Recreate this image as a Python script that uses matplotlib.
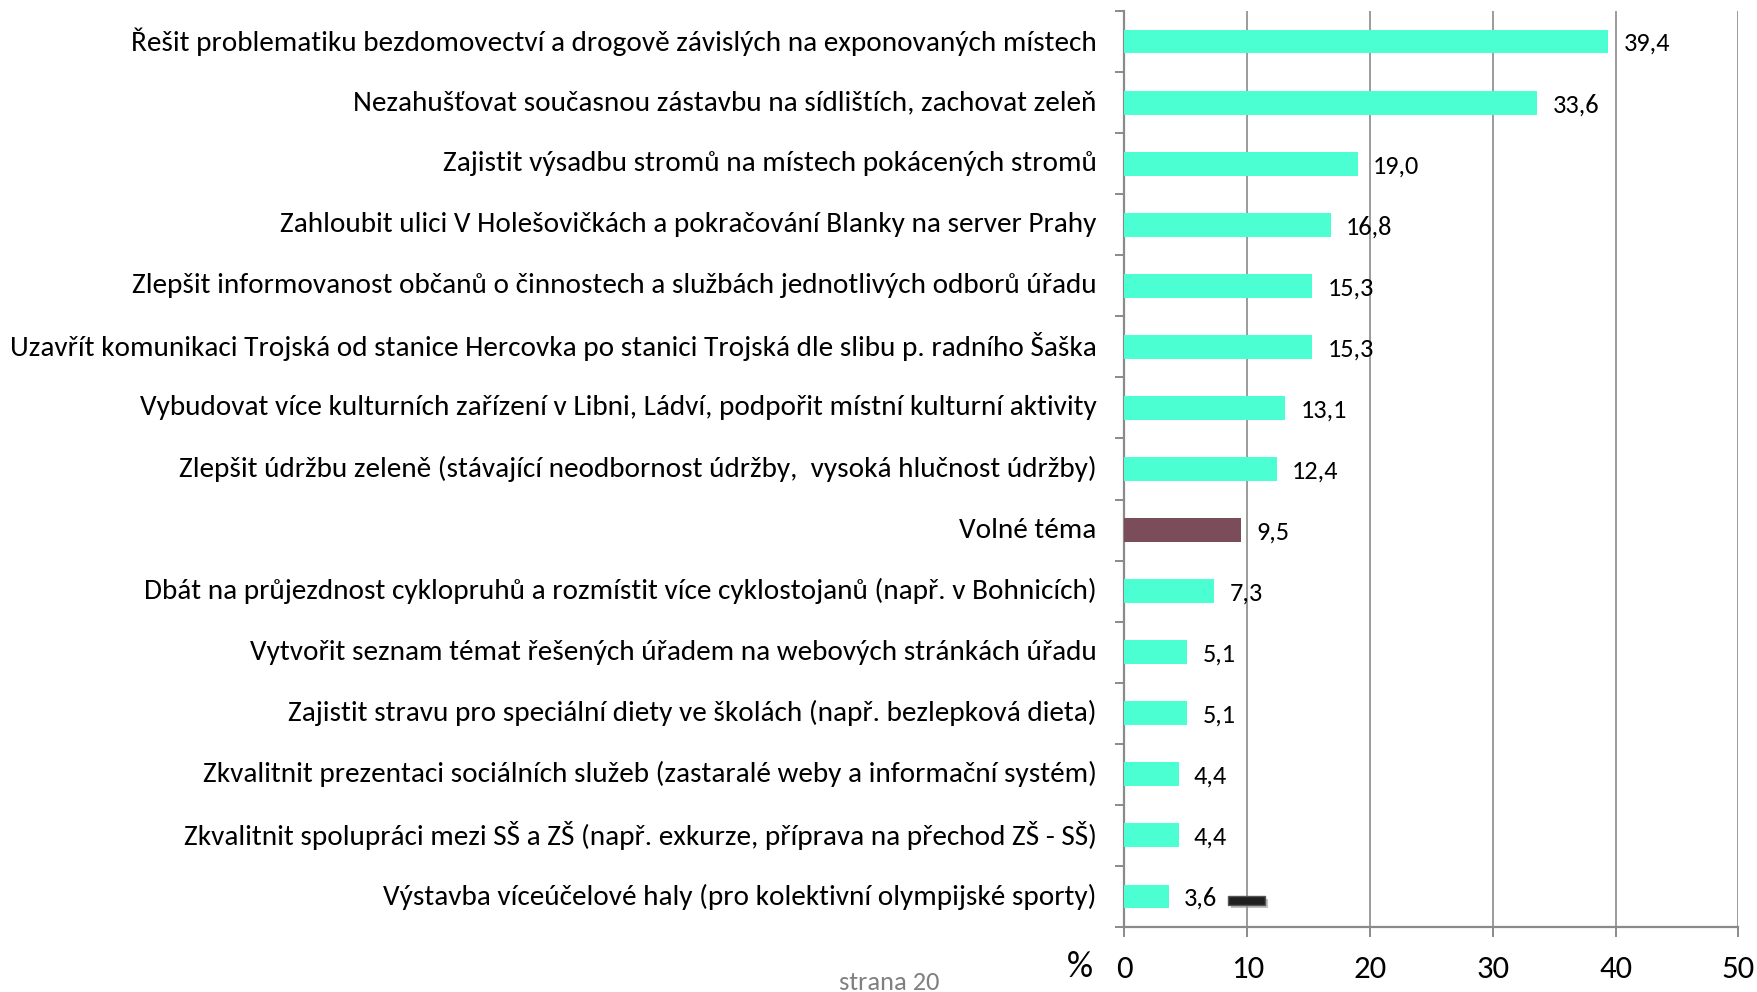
import matplotlib
matplotlib.use("Agg")
import matplotlib.pyplot as plt
from matplotlib import font_manager
import matplotlib.patheffects as pe
import matplotlib.transforms as mtransforms
from matplotlib.patches import Rectangle

categories = [
    "Řešit problematiku bezdomovectví a drogově závislých na exponovaných místech",
    "Nezahušťovat současnou zástavbu na sídlištích, zachovat zeleň",
    "Zajistit výsadbu stromů na místech pokácených stromů",
    "Zahloubit ulici V Holešovičkách a pokračování Blanky na server Prahy",
    "Zlepšit informovanost občanů o činnostech a službách jednotlivých odborů úřadu",
    "Uzavřít komunikaci Trojská od stanice Hercovka po stanici Trojská dle slibu p. radního Šaška",
    "Vybudovat více kulturních zařízení v Libni, Ládví, podpořit místní kulturní aktivity",
    "Zlepšit údržbu zeleně (stávající neodbornost údržby,  vysoká hlučnost údržby)",
    "Volné téma",
    "Dbát na průjezdnost cyklopruhů a rozmístit více cyklostojanů (např. v Bohnicích)",
    "Vytvořit seznam témat řešených úřadem na webových stránkách úřadu",
    "Zajistit stravu pro speciální diety ve školách (např. bezlepková dieta)",
    "Zkvalitnit prezentaci sociálních služeb (zastaralé weby a informační systém)",
    "Zkvalitnit spolupráci mezi SŠ a ZŠ (např. exkurze, příprava na přechod ZŠ - SŠ)",
    "Výstavba víceúčelové haly (pro kolektivní olympijské sporty)",
]
values = [39.4, 33.6, 19.0, 16.8, 15.3, 15.3, 13.1, 12.4, 9.5, 7.3, 5.1, 5.1, 4.4, 4.4, 3.6]
highlight = "Volné téma"
x_ticks = [0, 10, 20, 30, 40, 50]
x_label = "%"
footer = "strana 20"

# font selection
available = {f.name for f in font_manager.fontManager.ttflist}
family = "DejaVu Sans"
for cand in ["Carlito", "Calibri", "Liberation Sans Narrow", "Roboto Condensed", "Open Sans Condensed", "Lato", "Open Sans"]:
    if cand in available:
        family = cand
        break
plt.rcParams["font.family"] = [family, "DejaVu Sans"]

W, H = 1758, 992
fig = plt.figure(figsize=(W / 100, H / 100), dpi=100)
ax = fig.add_axes([1124.5 / W, 1 - 927 / H, (1738.5 - 1124.5) / W, (927 - 11) / H])

aqua = "#4cffd2"
maroon = "#7b4d5b"
grey = "#8a8a8a"
colors = [maroon if c == highlight else aqua for c in categories]

ypos = list(range(len(categories)))
ax.barh(ypos, values, height=0.39, color=colors, zorder=3)
ax.set_ylim(len(categories) - 0.5, -0.5)
ax.set_xlim(0, 50)

ax.set_xticks(x_ticks)
ax.set_yticks(ypos)
ax.set_yticklabels(categories)
ax.set_yticks([i - 0.5 for i in range(len(categories) + 1)], minor=True)

for s in ["top", "right"]:
    ax.spines[s].set_visible(False)
for s in ["left", "bottom"]:
    ax.spines[s].set_color(grey)
    ax.spines[s].set_linewidth(1.6)

ax.xaxis.grid(True, color=grey, linewidth=1.2, zorder=0)
ax.set_axisbelow(True)

# fit font size so the longest label spans the measured width
base = 20
for t in ax.get_yticklabels():
    t.set_fontsize(base)
fig.canvas.draw()
r = fig.canvas.get_renderer()
maxw = max(t.get_window_extent(r).width for t in ax.get_yticklabels())
fs = base * 1086 / maxw
vfs = fs * 0.9

ax.tick_params(axis="y", which="major", length=0, pad=20, labelsize=fs, labelcolor="black")
shift = mtransforms.ScaledTranslation(0, 2.5 / 100, fig.dpi_scale_trans)
for t in ax.get_yticklabels():
    t.set_va("center_baseline")
    t.set_transform(t.get_transform() + shift)
ax.tick_params(axis="y", which="minor", length=6.5, width=1.4, color=grey, direction="out")
ax.tick_params(axis="x", which="major", length=7, width=1.4, color=grey, direction="out", pad=13,
               labelsize=fs * 1.12, labelcolor="black")

for y, v in zip(ypos, values):
    ax.annotate(f"{v:.1f}".replace(".", ","), xy=(v, y), xytext=(11, 0), textcoords="offset points",
                ha="left", va="center_baseline", fontsize=vfs, color="black", zorder=5)

fig.text(1080 / W, 1 - 967 / H, x_label, ha="center", va="center", fontsize=fs * 1.25, color="black")
fig.text(889 / W, 1 - 982 / H, footer, ha="center", va="center", fontsize=fs * 0.9, color="#808080")

# small dark marker near the last bar (artifact in the original)
rect = Rectangle((8.45, len(categories) - 1 + 0.0), 3.0, 0.14, facecolor="#202020", edgecolor="#555555",
                 linewidth=1.0, zorder=6, clip_on=False,
                 path_effects=[pe.SimplePatchShadow(offset=(2, -2), shadow_rgbFace="#999999", alpha=0.6), pe.Normal()])
ax.add_patch(rect)

fig.savefig("out.png", dpi=100)
